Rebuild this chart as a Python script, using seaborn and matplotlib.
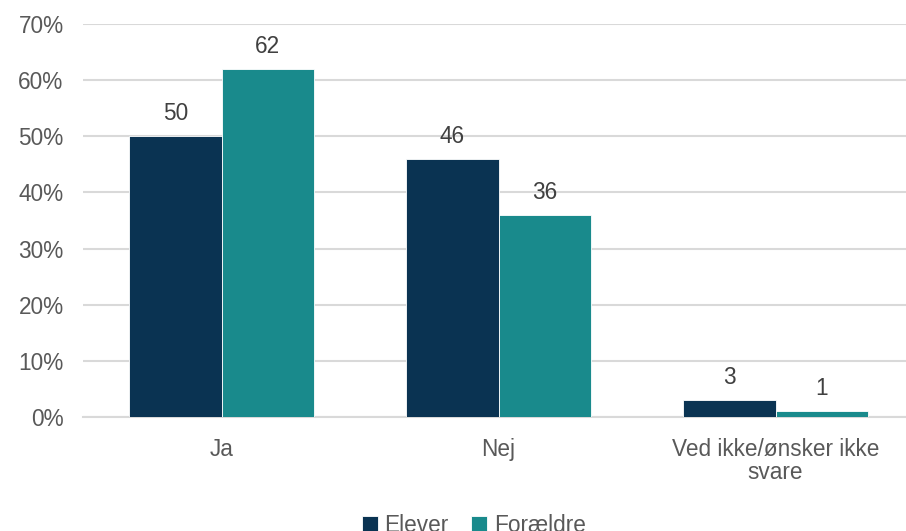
import pandas as pd
import matplotlib.pyplot as plt
import seaborn as sns

# data
categories = ['Ja', 'Nej', 'Ved ikke/ønsker ikke\nsvare']
elever = [50, 46, 3]
foraeldre = [62, 36, 1]
groups = ['Elever', 'Forældre']
colors = ['#0A3352', '#198A8C']

df = pd.DataFrame({
    'Svar': categories * 2,
    'Gruppe': [groups[0]] * 3 + [groups[1]] * 3,
    'Pct': elever + foraeldre,
})

sns.set_style('white')
plt.rcParams['font.family'] = ['Liberation Sans', 'DejaVu Sans']
fs = 16.3

fig = plt.figure(figsize=(9.06, 5.31), dpi=100)
ax = fig.add_axes([83 / 906, 1 - 417 / 531, 831 / 906, 393 / 531])

sns.barplot(data=df, x='Svar', y='Pct', hue='Gruppe', palette=colors,
            saturation=1, width=0.667, gap=0, edgecolor='white', linewidth=0.6,
            legend=True, ax=ax, zorder=3)

for c in ax.containers:
    ax.bar_label(c, fmt='%d', padding=8, fontsize=fs, color='#404040')

ax.set_ylim(0, 70)
ax.set_xlim(-0.5, 2.5)
ax.set_yticks(range(0, 71, 10))
ax.set_yticklabels([f'{v}%' for v in range(0, 71, 10)])
ax.yaxis.grid(True, color='#D9D9D9', linewidth=1.5, zorder=0)
ax.set_axisbelow(True)
for s in ['top', 'right', 'left']:
    ax.spines[s].set_visible(False)
ax.spines['bottom'].set_color('#D9D9D9')
ax.spines['bottom'].set_linewidth(1.5)
ax.tick_params(axis='y', length=0, labelsize=fs, colors='#595959', pad=14)
ax.tick_params(axis='x', length=0, labelsize=fs, colors='#595959', pad=15)
for t in ax.get_xticklabels():
    t.set_linespacing(1.0)
ax.set_xlabel('')
ax.set_ylabel('')

ax.get_legend().remove()
handles, labels = ax.get_legend_handles_labels()
fig.legend(handles[:2], labels[:2], loc='center', bbox_to_anchor=(0.523, 0.01),
           ncol=2, frameon=False, fontsize=fs, labelcolor='#595959',
           handlelength=0.7, handleheight=0.7, handletextpad=0.3, columnspacing=1.0)

fig.savefig('out.png', dpi=100)
